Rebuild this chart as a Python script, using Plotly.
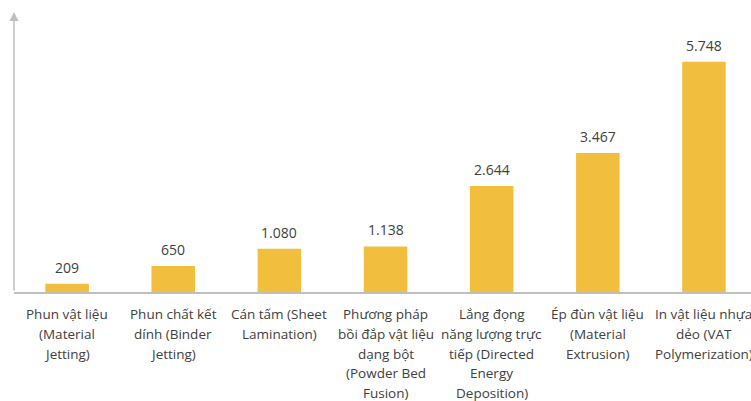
import plotly.graph_objects as go

# Additive manufacturing process groups and their counts
categories = [
    "Phun vật liệu<br>(Material<br>Jetting)",
    "Phun chất kết<br>dính (Binder<br>Jetting)",
    "Cán tấm (Sheet<br>Lamination)",
    "Phương pháp<br>bồi đắp vật liệu<br>dạng bột<br>(Powder Bed<br>Fusion)",
    "Lắng đọng<br>năng lượng trực<br>tiếp (Directed<br>Energy<br>Deposition)",
    "Ép đùn vật liệu<br>(Material<br>Extrusion)",
    "In vật liệu nhựa<br>dẻo (VAT<br>Polymerization)",
]
values = [209, 650, 1080, 1138, 2644, 3467, 5748]

BAR_COLOR = "#F2BE3E"
TEXT_COLOR = "#404040"
AXIS_COLOR = "#BFBFBF"
FONT = "Open Sans"
Y_TOP = 6990


def fmt_thousands(v):
    # Vietnamese style: dot as thousands separator
    return f"{v:,}".replace(",", ".")


fig = go.Figure(
    go.Bar(
        x=list(range(len(categories))),
        y=values,
        width=0.41,
        marker=dict(color=BAR_COLOR, line=dict(width=0)),
        hoverinfo="skip",
    )
)

annotations = []

# Value labels above the bars
for i, v in enumerate(values):
    annotations.append(dict(
        x=i, xref="x", y=v, yref="y",
        text=fmt_thousands(v), showarrow=False,
        xanchor="center", yanchor="bottom", yshift=5,
        font=dict(family=FONT, size=14, color=TEXT_COLOR),
    ))

# Multi-line category labels under each bar
for i, label in enumerate(categories):
    for j, line in enumerate(label.split("<br>")):
        annotations.append(dict(
            x=i, xref="x", y=0, yref="paper",
            text=line, showarrow=False,
            xanchor="center", yanchor="middle",
            yshift=-(22 + j * 19.8),
            font=dict(family=FONT, size=13.5, color=TEXT_COLOR),
        ))

# Vertical axis with arrowhead
annotations.append(dict(
    x=-0.5, y=Y_TOP, xref="x", yref="y",
    ax=-0.5, ay=0, axref="x", ayref="y",
    showarrow=True, arrowhead=2, arrowsize=1.2, arrowwidth=1.5,
    arrowcolor=AXIS_COLOR, text="",
))

fig.update_layout(
    width=751, height=401,
    margin=dict(l=14, r=0, t=12, b=109),
    paper_bgcolor="white", plot_bgcolor="white",
    showlegend=False,
    annotations=annotations,
    font=dict(family=FONT, color=TEXT_COLOR),
)
fig.update_xaxes(
    range=[-0.5, 6.443],
    showticklabels=False, ticks="",
    showgrid=False, zeroline=False,
    showline=True, linecolor=AXIS_COLOR, linewidth=1.5,
    fixedrange=True,
)
fig.update_yaxes(
    range=[0, Y_TOP],
    visible=False, showgrid=False, zeroline=False,
    fixedrange=True,
)

fig.write_html("out.html")
